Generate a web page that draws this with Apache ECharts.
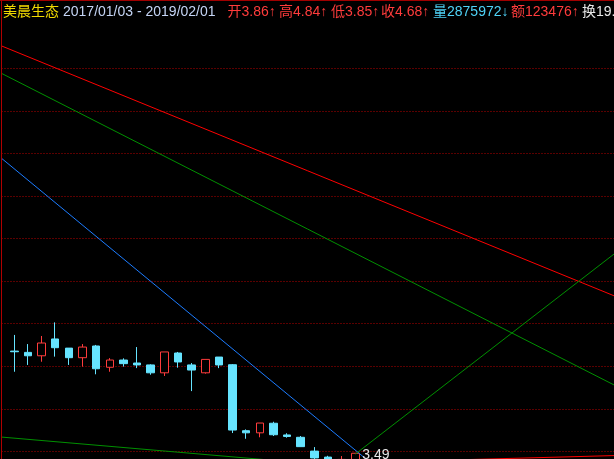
<!DOCTYPE html>
<html>
<head>
<meta charset="utf-8">
<script src="https://cdn.jsdelivr.net/npm/echarts@6/dist/echarts.min.js"></script>
<style>
  html, body { margin: 0; padding: 0; background: #000; }
  #chart { width: 614px; height: 459px; }
</style>
</head>
<body>
<div id="chart"></div>
<script>
// Monthly candles, 2017-01 .. 2019-02 (x = month index)
const months = ['2017-01','2017-02','2017-03','2017-04','2017-05','2017-06','2017-07','2017-08','2017-09','2017-10','2017-11','2017-12',
                '2018-01','2018-02','2018-03','2018-04','2018-05','2018-06','2018-07','2018-08','2018-09','2018-10','2018-11','2018-12',
                '2019-01','2019-02'];
const opens  = [8.71, 8.65, 8.49, 9.28, 8.85, 8.40, 8.95, 7.95, 8.29, 8.15, 8.06, 7.69, 8.62, 8.06, 7.69, 8.43, 8.07, 4.97, 4.87, 5.32, 4.77, 4.66, 4.01, 3.73, 3.55, 3.58];
const closes = [8.68, 8.49, 9.09, 8.87, 8.40, 8.90, 7.88, 8.29, 8.12, 8.06, 7.69, 8.67, 8.20, 7.82, 8.32, 8.06, 5.00, 4.87, 5.33, 4.78, 4.70, 4.22, 3.69, 3.54, 3.62, 3.91];
const lows   = [7.74, 8.06, 8.21, 8.45, 8.06, 7.98, 7.62, 7.74, 7.98, 7.91, 7.60, 7.54, 7.93, 6.83, 7.65, 7.91, 4.86, 4.59, 4.66, 4.72, 4.64, 4.22, 3.57, 3.51, 3.52, 3.49];
const highs  = [9.47, 9.04, 9.42, 10.06, 8.85, 9.04, 9.00, 8.38, 8.37, 8.90, 8.09, 8.67, 8.67, 8.15, 8.32, 8.43, 8.10, 5.03, 5.33, 5.39, 4.85, 4.72, 4.20, 3.79, 3.78, 3.91];

// Drawn trend lines: [[xIndex, price], [xIndex, price]]
const redLine       = [[-0.94, 23.05], [43.97, 11.31]];
const greenLineHigh = [[-0.94, 21.76], [43.97, 7.12]];
const blueLine      = [[-0.94, 17.77], [26.81, 3.10]];
const greenRise     = [[25, 3.87], [43.97, 13.27]];
const greenLow      = [[-0.94, 4.67], [20.94, 3.47]];
const redLow        = [[25, 3.47], [43.97, 3.80]];

// Header text
const headerParts = [
  { text: '美晨生态', color: '#f2da00', x: 3 },
  { text: '2017/01/03 - 2019/02/01', color: '#c4d4f4', x: 63 },
  { text: '开3.86↑', color: '#ff3c3c', x: 227.5 },
  { text: '高4.84↑', color: '#ff3c3c', x: 279 },
  { text: '低3.85↑', color: '#ff3c3c', x: 331 },
  { text: '收4.68↑', color: '#ff3c3c', x: 381 },
  { text: '量2875972↓', color: '#4fd2f6', x: 433 },
  { text: '额123476↑', color: '#ff3c3c', x: 511 },
  { text: '换19.66%', color: '#e8e8e8', x: 582 }
];

const candleData = months.map((m, i) => [i, opens[i], closes[i], lows[i], highs[i]]);
const FONT = '"Liberation Sans", Arial, "Noto Sans CJK SC", sans-serif';

function trend(data, color) {
  return {
    type: 'line', data: data, symbol: 'none', silent: true, clip: true,
    lineStyle: { color: color, width: 1 }, z: 3
  };
}

const chart = echarts.init(document.getElementById('chart'));
chart.setOption({
  backgroundColor: '#000000',
  animation: false,
  grid: { left: 1.5, top: 25.7, width: 612.5, height: 468.2, show: false, outerBoundsMode: 'none', containLabel: false },
  xAxis: {
    type: 'value', min: -0.94, max: 43.97,
    axisLine: { show: false, onZero: false }, axisTick: { show: false },
    axisLabel: { show: false }, splitLine: { show: false }
  },
  yAxis: {
    type: 'value', min: 2, max: 24, interval: 2, position: 'left',
    axisLine: { show: false, onZero: false },
    axisTick: { show: false }, axisLabel: { show: false },
    splitLine: { show: true, showMaxLine: false, showMinLine: false,
      lineStyle: { color: '#b40000', width: 1, type: [1, 2] } }
  },
  graphic: headerParts.map(p => ({
    type: 'text', x: p.x, y: 12.5, silent: true,
    style: { text: p.text, fill: p.color, font: '14px ' + FONT, verticalAlign: 'middle', align: 'left' }
  })).concat([
    { type: 'line', silent: true, z: 10,
      shape: { x1: 0, y1: 0.5, x2: 614, y2: 0.5 },
      style: { stroke: '#a00000', lineWidth: 1 } },
    { type: 'line', silent: true, z: 10,
      shape: { x1: 1.5, y1: 0, x2: 1.5, y2: 459 },
      style: { stroke: '#b00000', lineWidth: 1 } }
  ]),
  series: [
    {
      type: 'candlestick',
      data: candleData,
      barWidth: 8,
      z: 2,
      itemStyle: {
        color: '#000000', borderColor: '#ff3c3c',
        color0: '#66e4ff', borderColor0: '#66e4ff',
        borderWidth: 1
      },
      markPoint: {
        symbol: 'circle', symbolSize: 0,
        itemStyle: { color: 'transparent' },
        data: [{ type: 'min', valueDim: 'lowest' }],
        label: {
          show: true, position: 'right', distance: 0, offset: [7, -7],
          color: '#e6e6e6', fontSize: 14, fontFamily: FONT,
          formatter: p => Number(p.value).toFixed(2)
        }
      }
    },
    trend(redLine, '#ff0000'),
    trend(greenLineHigh, '#009000'),
    trend(blueLine, '#1c7cff'),
    trend(greenRise, '#009000'),
    trend(greenLow, '#009000'),
    trend(redLow, '#ff0000')
  ]
});
</script>
</body>
</html>
